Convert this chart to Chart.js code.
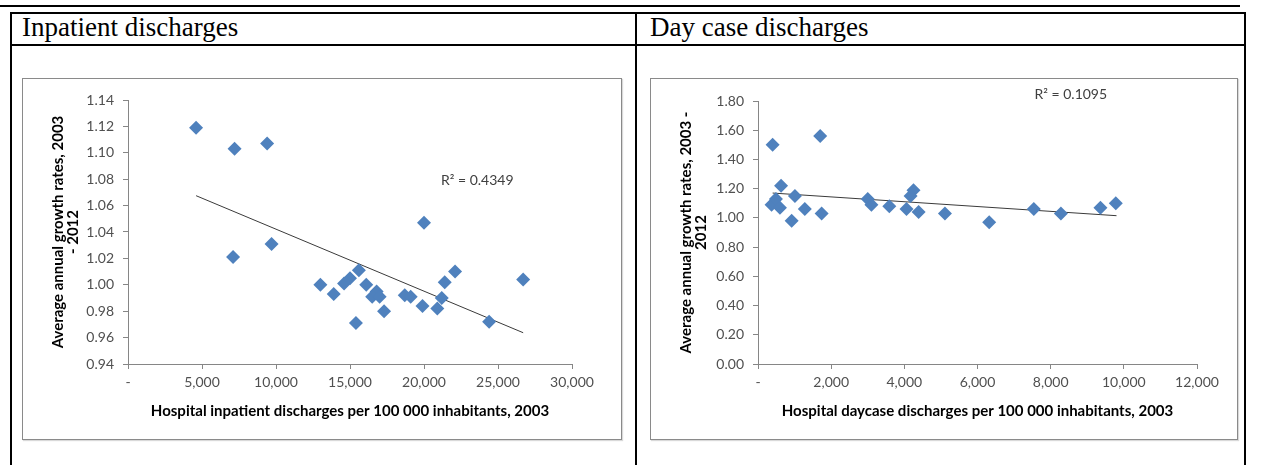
<!DOCTYPE html>
<html>
<head>
<meta charset="utf-8">
<script src="https://cdn.jsdelivr.net/npm/chart.js@4/dist/chart.umd.min.js"></script>
<style>
  body { margin: 0; background: #fff; width: 1263px; height: 465px; overflow: hidden; position: relative; }
  .rule { position: absolute; background: #000; }
  .head { position: absolute; font-family: "Liberation Serif", serif; font-size: 27px; color: #000; }
  .frame { position: absolute; border: 1px solid #8a8a8a; box-sizing: border-box; box-shadow: 1px 1px 1px rgba(0,0,0,0.15); }
  canvas { position: absolute; }
</style>
</head>
<body>
<div class="rule" style="left:0;width:1240px;height:2px;top:5px"></div>
<div class="rule" style="left:10px;top:12px;width:1236px;height:2px"></div>
<div class="rule" style="left:10px;top:44px;width:1236px;height:2px"></div>
<div class="rule" style="left:10px;top:12px;width:2px;height:460px"></div>
<div class="rule" style="left:635px;top:12px;width:2px;height:460px"></div>
<div class="rule" style="left:1244px;top:12px;width:2px;height:460px"></div>
<div class="head" style="left:22px;top:12px">Inpatient discharges</div>
<div class="head" style="left:650px;top:12px">Day case discharges</div>

<div class="frame" style="left:22px;top:78px;width:600px;height:362px"></div>
<div class="frame" style="left:650px;top:78px;width:588px;height:362px"></div>
<canvas id="inpatient" width="600" height="362" style="left:22px;top:78px"></canvas>
<canvas id="daycase" width="588" height="362" style="left:650px;top:78px"></canvas>

<script>
// inpatient discharges per 100 000 (2003) vs growth rate 2003-2012
const inpatientX = [4600, 7200, 9400, 7100, 9700, 20000, 26700, 24400, 13000, 13900, 14600, 15000, 15600, 16100, 16800, 16500, 17000, 17300, 15400, 18700, 19100, 19900, 20900, 21200, 21400, 22100];
const inpatientY = [1.119, 1.103, 1.107, 1.021, 1.031, 1.047, 1.004, 0.972, 1.000, 0.993, 1.001, 1.005, 1.011, 1.000, 0.995, 0.991, 0.991, 0.980, 0.971, 0.992, 0.991, 0.984, 0.982, 0.990, 1.002, 1.010];
const inpatientTrendX = [4600, 26700];
const inpatientTrendY = [1.0675, 0.9637];
const inpatientR2 = "R² = 0.4349";

// day case discharges
const daycaseX = [400, 1700, 630, 370, 490, 600, 1010, 920, 1280, 1740, 3000, 3100, 3590, 4060, 4250, 4170, 4390, 5110, 6320, 7540, 8280, 9360, 9780];
const daycaseY = [1.50, 1.56, 1.22, 1.09, 1.13, 1.07, 1.15, 0.98, 1.06, 1.03, 1.13, 1.09, 1.08, 1.06, 1.19, 1.15, 1.04, 1.03, 0.97, 1.06, 1.03, 1.07, 1.10];
const daycaseTrendX = [400, 9800];
const daycaseTrendY = [1.17, 1.015];
const daycaseR2 = "R² = 0.1095";

const fontFam = "Lato, 'Open Sans', sans-serif";
const tickGrey = "#505050";
const axisGrey = "#868686";
const blue = "#4F81BD";

function zip(xs, ys) {
  return xs.map((x, i) => ({ x: x, y: ys[i] }));
}

// writes the R² text at a data position
function r2Label(text, xv, yv) {
  return {
    id: "r2",
    afterDatasetsDraw(chart) {
      const ctx = chart.ctx;
      const px = chart.scales.x.getPixelForValue(xv);
      const py = chart.scales.y.getPixelForValue(yv);
      ctx.save();
      ctx.font = "14px " + fontFam;
      ctx.fillStyle = "#404040";
      ctx.textAlign = "center";
      ctx.textBaseline = "middle";
      ctx.fillText(text, px, py);
      ctx.restore();
    },
  };
}

function makeChart(id, pts, trend, opts) {
  const ctx = document.getElementById(id).getContext("2d");
  return new Chart(ctx, {
    type: "scatter",
    data: {
      datasets: [
        {
          data: pts,
          pointStyle: "rectRot",
          pointRadius: 7,
          backgroundColor: blue,
          borderColor: blue,
          borderWidth: 0,
        },
        {
          data: trend,
          showLine: true,
          pointRadius: 0,
          borderColor: "#3a3a3a",
          borderWidth: 1,
        },
      ],
    },
    options: {
      responsive: false,
      animation: false,
      layout: { padding: { left: 0, top: opts.top, right: opts.right, bottom: 0 } },
      plugins: { legend: { display: false }, tooltip: { enabled: false } },
      scales: {
        x: {
          min: opts.xMin,
          max: opts.xMax,
          afterFit: (s) => { s.height = 76; },
          border: { display: true, color: axisGrey },
          grid: { drawOnChartArea: false, drawTicks: true, tickLength: 5, color: axisGrey },
          ticks: {
            stepSize: opts.xStep,
            padding: 5,
            color: tickGrey,
            font: { family: fontFam, size: 14 },
            maxRotation: 0,
            callback: (v) => (v === 0 ? "-" : v.toLocaleString("en-US")),
          },
          title: {
            display: true,
            text: opts.xTitle,
            color: "#000",
            font: { family: fontFam, size: 15, weight: "bold", lineHeight: 1.05 },
            padding: { top: 0, bottom: 21 },
          },
        },
        y: {
          min: opts.yMin,
          max: opts.yMax,
          afterFit: (s) => { s.width = opts.yWidth; },
          border: { display: true, color: axisGrey },
          grid: { drawOnChartArea: false, drawTicks: true, tickLength: 5, color: axisGrey },
          ticks: {
            stepSize: opts.yStep,
            padding: 9,
            color: tickGrey,
            font: { family: fontFam, size: 14 },
            callback: (v) => v.toFixed(2),
          },
          title: {
            display: true,
            text: opts.yTitle,
            color: "#000",
            font: { family: fontFam, size: 15, weight: "bold", lineHeight: 1.05 },
            padding: { top: 28, bottom: 0 },
          },
        },
      },
    },
    plugins: [r2Label(opts.r2, opts.r2x, opts.r2y)],
  });
}

makeChart("inpatient", zip(inpatientX, inpatientY), zip(inpatientTrendX, inpatientTrendY), {
  xMin: 0, xMax: 30000, xStep: 5000,
  yMin: 0.94, yMax: 1.14, yStep: 0.02,
  yWidth: 106, top: 22, right: 50,
  xTitle: "Hospital inpatient discharges per 100 000 inhabitants, 2003",
  yTitle: ["Average annual growth rates, 2003", "- 2012"],
  r2: inpatientR2, r2x: 23600, r2y: 1.079,
});

makeChart("daycase", zip(daycaseX, daycaseY), zip(daycaseTrendX, daycaseTrendY), {
  xMin: 0, xMax: 12000, xStep: 2000,
  yMin: 0, yMax: 1.8, yStep: 0.2,
  yWidth: 108, top: 23, right: 41,
  xTitle: "Hospital daycase discharges per 100 000 inhabitants, 2003",
  yTitle: ["Average annual growth rates, 2003 -", "2012"],
  r2: daycaseR2, r2x: 8550, r2y: 1.845,
});
</script>
</body>
</html>
